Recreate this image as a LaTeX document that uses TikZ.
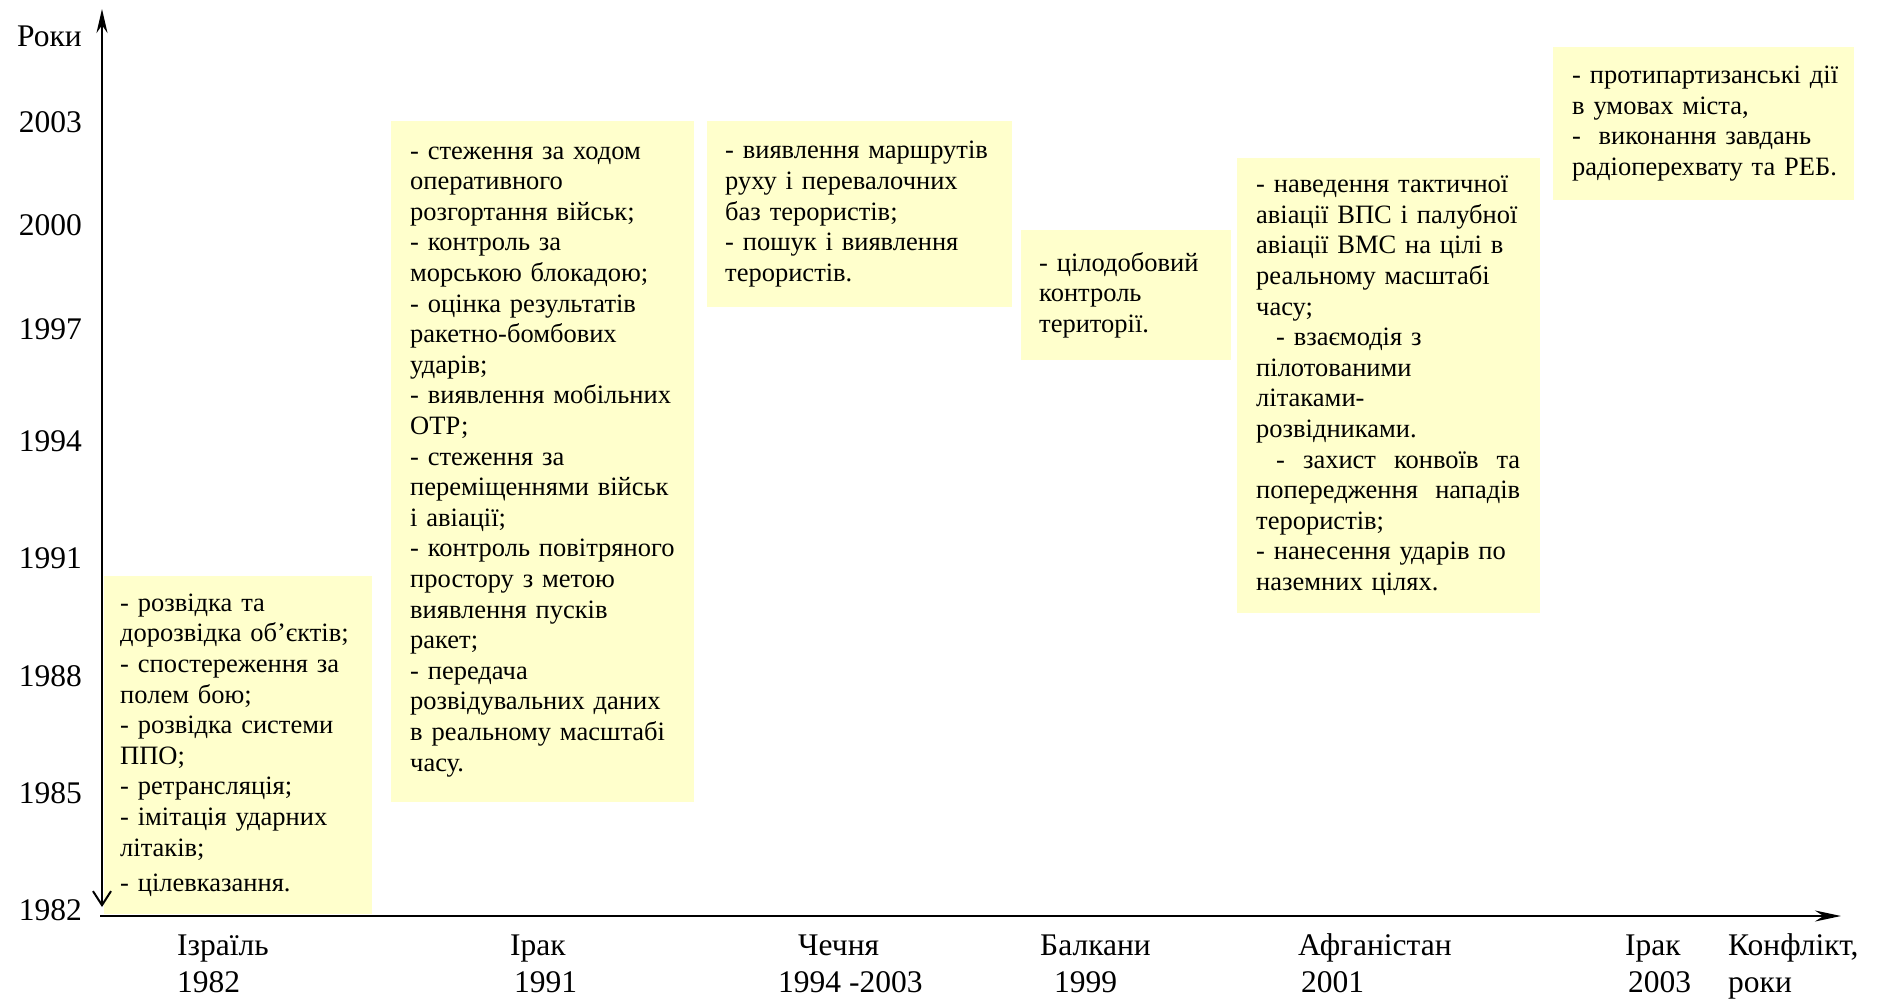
\documentclass[tikz,border=0pt]{standalone}
\usepackage{fontspec}
\setmainfont{Liberation Serif}
\usetikzlibrary{arrows.meta}
\definecolor{boxyellow}{HTML}{FFFFCC}
\newcommand\bxfont{\fontsize{26.5}{30.6}\selectfont}
\newcommand\lbfont{\fontsize{31.5}{37}\selectfont}
\begin{document}
\begin{tikzpicture}[x=1pt,y=-1pt,
  infobox/.style={fill=boxyellow, anchor=north west, inner ysep=0pt, align=left, font=\bxfont},
  axisline/.style={line width=2.6pt, black},
  yearlbl/.style={anchor=base east, font=\lbfont, inner sep=0pt},
  conflbl/.style={anchor=base west, font=\lbfont, inner sep=0pt}]
\useasboundingbox (0,0) rectangle (1881,1000);

% information boxes
\node[infobox, inner xsep=16pt, text width=236pt, minimum height=338pt] (b1) at (104,576) {%
\mbox{- розвідка та}\\
\mbox{дорозвідка об’єктів;}\\
\mbox{- спостереження за}\\
\mbox{полем бою;}\\
\mbox{- розвідка системи}\\
\mbox{ППО;}\\
\mbox{- ретрансляція;}\\
\mbox{- імітація ударних}\\
\mbox{літаків;}\\[5pt]
\mbox{- цілевказання.}};

\node[infobox, inner xsep=19pt, text width=265pt, minimum height=681pt] (b2) at (391,121) {%
\mbox{- стеження за ходом}\\
\mbox{оперативного}\\
\mbox{розгортання військ;}\\
\mbox{- контроль за}\\
\mbox{морською блокадою;}\\
\mbox{- оцінка результатів}\\
\mbox{ракетно-бомбових}\\
\mbox{ударів;}\\
\mbox{- виявлення мобільних}\\
\mbox{ОТР;}\\
\mbox{- стеження за}\\
\mbox{переміщеннями військ}\\
\mbox{і авіації;}\\
\mbox{- контроль повітряного}\\
\mbox{простору з метою}\\
\mbox{виявлення пусків}\\
\mbox{ракет;}\\
\mbox{- передача}\\
\mbox{розвідувальних даних}\\
\mbox{в реальному масштабі}\\
\mbox{часу.}};

\node[infobox, inner xsep=18pt, text width=269pt, minimum height=186pt] (b3) at (707,121) {%
\mbox{- виявлення маршрутів}\\
\mbox{руху і перевалочних}\\
\mbox{баз терористів;}\\
\mbox{- пошук і виявлення}\\
\mbox{терористів.}};

\node[infobox, inner xsep=18pt, text width=174pt, minimum height=130pt] (b4) at (1021,230) {%
\mbox{- цілодобовий}\\
\mbox{контроль}\\
\mbox{території.}};

\node[infobox, inner xsep=19pt, text width=265pt, minimum height=455pt] (b5) at (1237,158) {%
\mbox{- наведення тактичної}\\
\mbox{авіації ВПС і палубної}\\
\mbox{авіації ВМС на цілі в}\\
\mbox{реальному масштабі}\\
\mbox{часу;}\\
\mbox{\hspace*{20pt}- взаємодія з}\\
\mbox{пілотованими}\\
\mbox{літаками-}\\
\mbox{розвідниками.}\\
\makebox[264pt][l]{\hspace*{20pt}-\hfill захист\hfill конвоїв\hfill та}\\
\makebox[264pt][l]{попередження\hfill нападів}\\
\mbox{терористів;}\\
\mbox{- нанесення ударів по}\\
\mbox{наземних цілях.}};

\node[infobox, inner xsep=19pt, text width=263pt, minimum height=153pt] (b6) at (1553,47) {%
\mbox{- протипартизанські дії}\\
\mbox{в умовах міста,}\\
\mbox{-\ \ виконання завдань}\\
\mbox{радіоперехвату та РЕБ.}};

% axes
\coordinate (vbot) at (102,907);
\coordinate (vtop) at (102,9);
\coordinate (hl) at (100,916);
\coordinate (hr) at (1841,916);
\draw[axisline, {Straight Barb[length=14pt,width=18pt,line width=2pt]}-{Stealth[length=24pt,width=11pt]}] (vbot) -- (vtop);
\draw[axisline, -{Stealth[length=26pt,width=11pt]}] (hl) -- (hr);

% year labels
\node[yearlbl] (yRoky) at (82,47) {Роки};
\node[yearlbl] (y2003) at (82,133) {2003};
\node[yearlbl] (y2000) at (82,236) {2000};
\node[yearlbl] (y1997) at (82,339) {1997};
\node[yearlbl] (y1994) at (82,451) {1994};
\node[yearlbl] (y1991) at (82,568) {1991};
\node[yearlbl] (y1988) at (82,686) {1988};
\node[yearlbl] (y1985) at (82,803) {1985};
\node[yearlbl] (y1982) at (82,920) {1982};

% conflict labels
\node[conflbl] (cIsr) at (177,955) {Ізраїль};
\node[conflbl] (cIsrY) at (177,992) {1982};
\node[conflbl] (cIrq) at (510,955) {Ірак};
\node[conflbl] (cIrqY) at (514,992) {1991};
\node[conflbl] (cChe) at (798,955) {Чечня};
\node[conflbl] (cCheY) at (778,992) {1994 -2003};
\node[conflbl] (cBal) at (1040,955) {Балкани};
\node[conflbl] (cBalY) at (1054,992) {1999};
\node[conflbl] (cAfg) at (1298,955) {Афганістан};
\node[conflbl] (cAfgY) at (1301,992) {2001};
\node[conflbl] (cIrq2) at (1625,955) {Ірак};
\node[conflbl] (cIrq2Y) at (1628,992) {2003};
\node[conflbl] (cKon) at (1728,955) {Конфлікт,};
\node[conflbl] (cKonY) at (1728,992) {роки};
\end{tikzpicture}
\end{document}
